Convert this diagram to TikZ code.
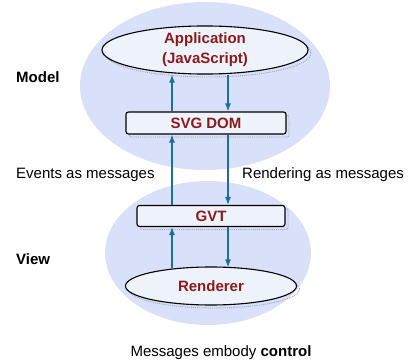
\documentclass[tikz,border=0pt]{standalone}
\usepackage{fontspec}
\setmainfont{Liberation Sans}
\usetikzlibrary{shapes.geometric,shadows,arrows.meta}
\definecolor{zone}{HTML}{D8E0FA}
\definecolor{boxfill}{HTML}{EEF2FB}
\definecolor{labelred}{HTML}{8B1A1A}
\definecolor{flow}{HTML}{1B6E9E}
\tikzset{
  zonefill/.style={ellipse, fill=zone, draw=none, inner sep=0pt},
  dotshadow/.style={general shadow={shadow xshift=3pt, shadow yshift=-3pt,
      draw=gray!70, densely dotted, line width=0.9pt, fill=none}},
  elnode/.style={ellipse, draw=black, line width=1.1pt, fill=boxfill, dotshadow,
      inner sep=0pt, text=labelred, font=\fontsize{15}{20}\selectfont\bfseries, align=center},
  barnode/.style={rectangle, rounded corners=2.5pt, draw=black, line width=1.1pt, fill=boxfill, dotshadow,
      inner sep=0pt, text=labelred, font=\fontsize{15}{17}\selectfont\bfseries},
  arr/.style={draw=flow, line width=1.2pt, -{Latex[length=8pt,width=6pt]}},
  side/.style={anchor=west, font=\fontsize{15}{17}\selectfont, inner sep=0pt},
  sidebold/.style={side, font=\fontsize{15}{17}\selectfont\bfseries},
}
\begin{document}
\begin{tikzpicture}[x=1pt,y=-1pt]
  \useasboundingbox (0,0) rectangle (408,364);
  % shaded zones
  \node[zonefill, minimum width=250pt, minimum height=168pt] (model) at (205,86) {};
  \node[zonefill, minimum width=206pt, minimum height=144pt] (view) at (208,253) {};
  % components
  \node[elnode, minimum width=206pt, minimum height=48pt] (app) at (205,50) {Application\\(JavaScript)};
  \node[barnode, minimum width=160pt, minimum height=22pt] (svg) at (206,123) {SVG DOM};
  \node[barnode, minimum width=148pt, minimum height=21pt] (gvt) at (211,216) {GVT};
  \node[elnode, minimum width=171pt, minimum height=38pt] (rend) at (211,286) {Renderer};
  % arrow columns
  \coordinate (up) at (172,0);
  \coordinate (dn) at (228,0);
  \draw[arr] (svg.north -| up) -- (app.south -| up);
  \draw[arr] (app.south -| dn) -- (svg.north -| dn);
  \draw[arr] (gvt.north -| up) -- (svg.south -| up);
  \draw[arr] (svg.south -| dn) -- (gvt.north -| dn);
  \draw[arr] (rend.north -| up) ++(0,1.5) -- (gvt.south -| up);
  \draw[arr] (gvt.south -| dn) -- ([yshift=-1pt]rend.north -| dn);
  % labels
  \node[sidebold] (lmodel) at (16,77) {Model};
  \node[sidebold] (lview) at (16,259) {View};
  \node[side] (levents) at (16,175) {Events as messages};
  \node[side] (lrender) at (242,175) {Rendering as messages};
  \node[font=\fontsize{15}{17}\selectfont, inner sep=0pt] (caption) at (221,353) {Messages embody \textbf{control}};
\end{tikzpicture}
\end{document}
